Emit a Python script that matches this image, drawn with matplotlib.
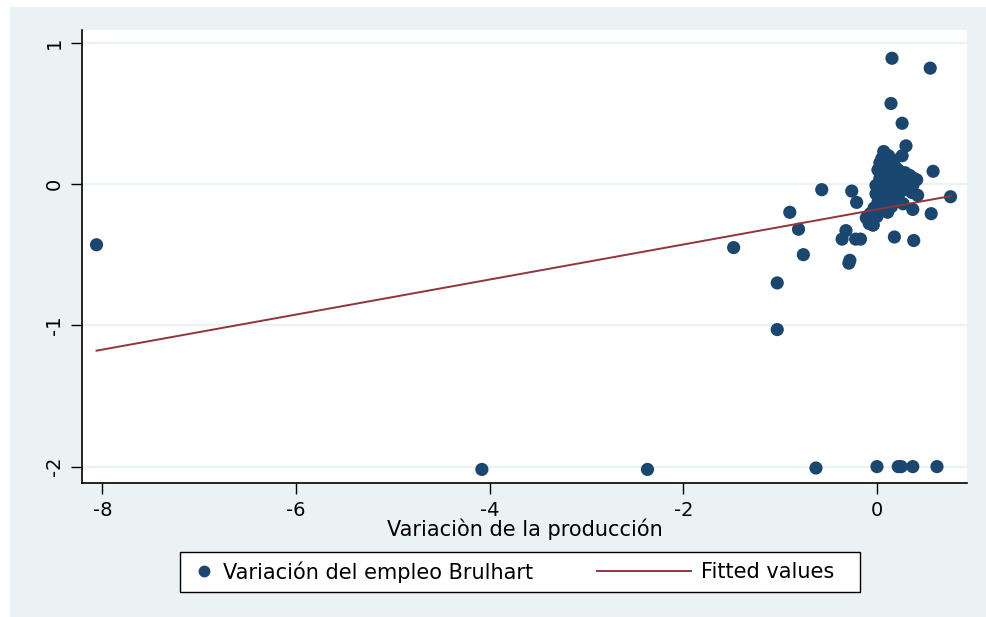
import matplotlib

matplotlib.use("Agg")
import matplotlib.pyplot as plt
from matplotlib.lines import Line2D
from matplotlib.patches import Rectangle

# Stata s2color look
BG = "#eaf2f3"
NAVY = "#1a476f"
MAROON = "#90353b"

# Variación de la producción (x) / Variación del empleo Brulhart (y)
prod = [-8.06, -4.08, -2.37, -1.48, -1.03, -1.03, -0.90, -0.81, -0.76, -0.63,
        -0.57, -0.36, -0.32, -0.28, -0.29, -0.26, -0.22, -0.21, -0.17, -0.04,
        0.00, 0.22, 0.25, 0.37, 0.62,
        0.155, 0.55, 0.145, 0.26, 0.30, 0.58, 0.76, 0.56, 0.38, 0.18, 0.37,
        0.07, 0.12, 0.17, 0.03, 0.10, 0.19, 0.01, 0.07, 0.14, 0.22, 0.29, 0.34,
        0.38, 0.03, 0.10, 0.18, 0.25, 0.32, 0.37, -0.01, 0.06, 0.13, 0.21, 0.28,
        -0.01, 0.06, 0.13, 0.22, 0.01, 0.08, 0.15, -0.03, 0.04, 0.11, -0.07,
        0.00, -0.11, -0.04, -0.08, -0.04, 0.42, 0.36, 0.27, 0.41, 0.26, 0.09,
        0.20, 0.05, 0.14]
emp = [-0.43, -2.02, -2.02, -0.45, -0.70, -1.03, -0.20, -0.32, -0.50, -2.01,
       -0.04, -0.39, -0.33, -0.54, -0.56, -0.05, -0.39, -0.13, -0.39, -0.29,
       -2.00, -2.00, -2.00, -2.00, -2.00,
       0.89, 0.82, 0.57, 0.43, 0.27, 0.09, -0.09, -0.21, -0.40, -0.375, -0.18,
       0.23, 0.20, 0.17, 0.15, 0.13, 0.12, 0.10, 0.08, 0.07, 0.10, 0.08, 0.06,
       0.04, 0.04, 0.03, 0.01, 0.01, 0.00, -0.01, -0.01, -0.03, -0.04, -0.04, -0.04,
       -0.07, -0.08, -0.10, -0.09, -0.13, -0.15, -0.16, -0.17, -0.18, -0.20, -0.21,
       -0.23, -0.24, -0.25, -0.28, -0.29, -0.08, -0.06, -0.14, 0.03, 0.20, 0.21,
       0.05, 0.18, -0.12]

# Fitted values (linear fit)
fit_x = [-8.06, 0.765]
fit_slope = 0.124
fit_intercept = -0.18

x_ticks = [-8, -6, -4, -2, 0]
y_ticks = [-2, -1, 0, 1]

FS = 15
plt.rcParams.update({"font.family": ["DejaVu Sans"]})
fig = plt.figure(figsize=(9.87, 6.17), dpi=100, facecolor="white")
fig.patches.append(Rectangle((10 / 987, 0), 1 - 10 / 987, 1 - 7 / 617,
                             transform=fig.transFigure, facecolor=BG,
                             edgecolor="none", zorder=-10))
ax = fig.add_axes([82 / 987, 1 - 483 / 617, 885 / 987, 453 / 617])
ax.set_facecolor("white")

ax.set_xlim(-8.21, 0.93)
ax.set_ylim(-2.116, 1.09)
for y in y_ticks:
    ax.axhline(y, color=BG, lw=1.6, zorder=0)

ax.scatter(prod, emp, s=90, color=NAVY, edgecolors="none", zorder=3)
fit_y = [fit_intercept + fit_slope * x for x in fit_x]
ax.plot(fit_x, fit_y, color=MAROON, lw=1.4, zorder=4)

ax.set_xticks(x_ticks)
ax.set_xticklabels([str(t) for t in x_ticks])
ax.set_yticks(y_ticks)
ax.set_yticklabels([str(t) for t in y_ticks], rotation=90, va="center")
ax.tick_params(direction="out", length=8, width=1, labelsize=14, pad=5)
for side in ("top", "right"):
    ax.spines[side].set_visible(False)
for side in ("left", "bottom"):
    ax.spines[side].set_linewidth(1.2)

ax.set_xlabel("Variaciòn de la producción", fontsize=FS, labelpad=-1)

# Legend: Stata-style box with two entries of different key widths
fig.patches.append(Rectangle((180 / 987, 1 - 592 / 617), 680 / 987, 40 / 617,
                             transform=fig.transFigure, facecolor="white",
                             edgecolor="black", lw=1.0, zorder=1))
dot = Line2D([], [], ls="none", marker="o", ms=7.5, color=NAVY)
line = Line2D([], [], color=MAROON, lw=1.4)
leg1 = fig.legend([dot], ["Variación del empleo Brulhart"], loc="center left",
                  bbox_to_anchor=(196 / 987, 1 - 572 / 617), frameon=False,
                  fontsize=FS, handlelength=0.8, handletextpad=0.5,
                  borderpad=0, borderaxespad=0)
leg2 = fig.legend([line], ["Fitted values"], loc="center left",
                  bbox_to_anchor=(597 / 987, 1 - 572 / 617), frameon=False,
                  fontsize=FS, handlelength=4.5, handletextpad=0.5,
                  borderpad=0, borderaxespad=0)
leg1.set_zorder(5)
leg2.set_zorder(5)

fig.savefig("out.png", dpi=100, facecolor="white")
